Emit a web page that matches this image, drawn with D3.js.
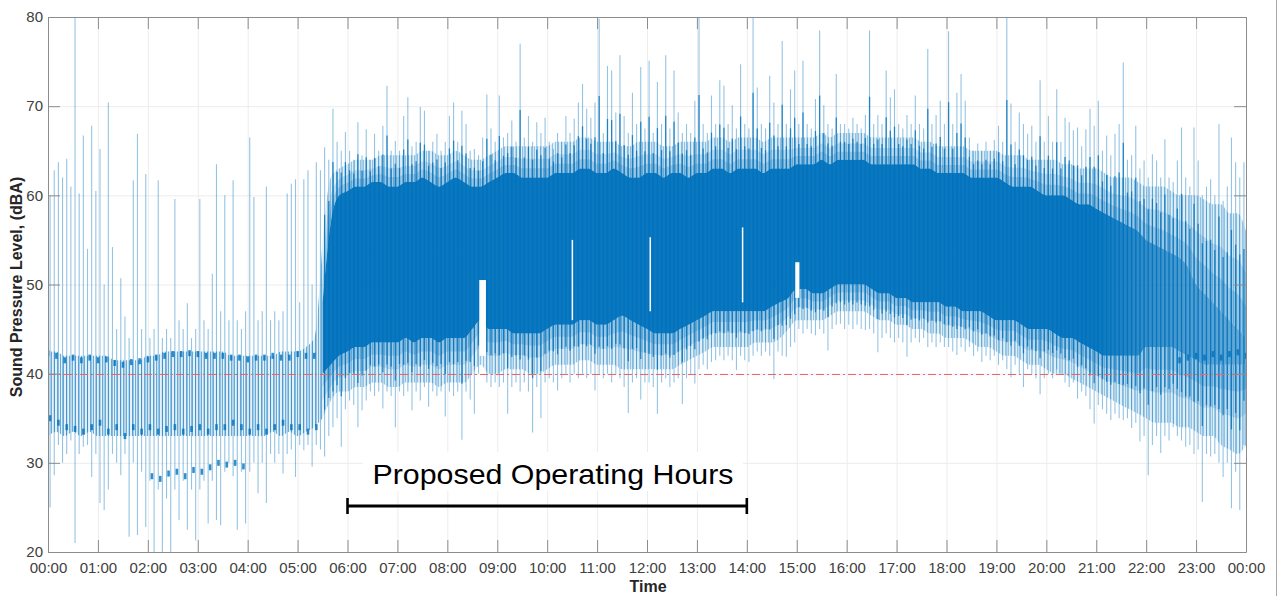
<!DOCTYPE html>
<html><head><meta charset="utf-8">
<script src="https://cdn.jsdelivr.net/npm/d3@7"></script>
<style>
body{margin:0;background:#fff;}
svg{display:block;font-family:"Liberation Sans",Arial,Helvetica,sans-serif;}
</style>
</head><body>
<svg id="c" width="1280" height="596"></svg>
<script>
// ---------- DATA ----------
const hourLabels = ["00:00","01:00","02:00","03:00","04:00","05:00","06:00","07:00","08:00","09:00","10:00","11:00","12:00","13:00","14:00","15:00","16:00","17:00","18:00","19:00","20:00","21:00","22:00","23:00","00:00"];
const yTicks = [20,30,40,50,60,70,80];
const threshold = 40;
const operatingStart = 6, operatingEnd = 14;
const annotationText = "Proposed Operating Hours";
const xLabel = "Time";
const yLabel = "Sound Pressure Level, (dBA)";

// light (sparse) band, every 10 min from 00:00 to 24:00
const fringeLow = [
 33,33.5,33,33.5,33,33.5, 33,33,33,33,33,33, 33,33,33,33,33,33, 33,33,33,33,33,33,
 33,33,33,33.5,33,33.5, 33,33.5,34,35,37,38,
 38,38.5,38.5,39,39,38.5, 38.5,39,39,39,39,38.5, 39,39,39,40,41,40,
 40,40.5,40.5,40.5,40,40, 40.5,41,41,41,41.5,41.5, 41,41,41,40.5,40.5,40.5,
 40.5,40.5,40.5,40.5,41,41.5, 42,42.5,43,43,43,43, 43,43.5,43.5,43.5,44,45,
 46,46,46,46,46.5,47, 47,47,47,46.5,46,46, 45.5,45.5,45,45,44.5,44.5,
 44,44,44,43.5,43,43, 42.5,42,42,41.5,41,41, 40.5,40,40,39.5,39,38.5,
 38,37.5,37,36.5,36,35.5, 35,34.5,34.5,34.5,34,34, 33.5,33,33,32,31.5,31, 32];
const fringeHigh = [
 42.5,42.5,42,42,42,42, 42,42,41.5,41.5,41.5,41.5, 42,42,42.5,42.5,42.5,42.5, 42.5,42.5,42.5,42.5,42,42,
 42,42,42,42,42.5,42.5, 42.5,43,44,55,62,63,
 63.5,64,64,64,64.5,64.5, 64.5,64.5,64.5,65,65,64.5, 64.5,65,64.5,64,64,64.5,
 65,65.5,65.5,65.5,65.5,65.5, 65.5,66,66,66,66.5,66.5, 66,66,66,65.5,65.5,66,
 66,66,65.5,65.5,66,66, 66,66,66.5,66.5,66,66.5, 66.5,66.5,66,66.5,66.5,66.5,
 66.5,66.5,66.5,67,66.5,67, 67,67,67,66.5,66.5,66.5, 66.5,66.5,66.5,66,66,65.5,
 65.5,65.5,65.5,65,65,65, 65,64.5,64.5,64.5,64,64, 64,64,63.5,63.5,63,63,
 63,62.5,62,62,62,61.5, 61,61,61,60.5,60,60, 60,59.5,59,59,58,58, 56];

// dense dark band, every 10 min from 05:30 to 24:00
const coreStartMinute = 330;
const coreLow = [
 40,41,42,
 42.5,43,43,43.5,43.5,43.5, 43.5,44,43.5,44,44,43.5, 44,44,44,45,46,45,
 45,45,44.5,44.5,44.5,44.5, 45,45.5,45.5,45.5,46,46, 45.5,45.5,46,46.5,46,45.5,
 45,44.5,44.5,44.5,45,45.5, 46,46.5,47,47,47,47, 47,47,47,47.5,48,48.5,
 49.5,49.5,49,49,49.5,50, 50,50,50,49.5,49,49, 48.5,48.5,48,48,48,48,
 47.5,47.5,47,47,47,46.5, 46,46,46,45.5,45,45, 45,44.5,44,44,43.5,43,
 42.5,42,42,42,42,42, 43,43,43,43,42.5,42, 41.5,41,41,41,41,41, 41];
const coreHigh = [
 48,57,60,
 60.5,61,61,61.5,61.5,61, 61,61.5,61.5,62,61.5,61, 61.5,62,61.5,61,61,61.5,
 62,62.5,62.5,62,62,62, 62,62.5,62.5,62.5,63,63, 62.5,62.5,63,62.5,62,62,
 62.5,62.5,62,62.5,62.5,62, 62.5,62.5,63,63,62.5,63, 63,63,62.5,63,63,63,
 63.5,63.5,63.5,64,63.5,64, 64,64,64,63.5,63.5,63.5, 63.5,63.5,63.5,63,63,62.5,
 62.5,62.5,62.5,62,62,62, 62,61.5,61,61,61,60.5, 60,60,60,59.5,59,59,
 58.5,58,57.5,57,56.5,56, 55,54.5,54,53.5,53,52, 50,49,48,47,46,45, 44];

// highest and lowest reading in each 5-minute interval (288 intervals)
const peaks5 = [
 60,62.8,63.7,62,64.1,61,80,60.2,66.7,54,67.8,60.5,
 65.2,50,70.4,54.2,45,50.7,46.4,44,61.7,66.9,45,62.4,
 44,45,61.7,44,45,44,59.6,46,45,47.9,44,45,
 59.6,46,45,51.2,63.5,47,60,46,61.7,46,45,47,
 66.5,59.8,46,47,61,46,47,46,47,60.2,61.3,61.8,
 48,61.8,62.8,50,63.7,62.8,65.4,64,69.7,66,65,67.1,
 65,64,68.2,64.5,67.4,64,66.9,65,67.8,72.3,65,66.1,
 65,68.9,71,65.5,66,69.9,69.5,65,66,66.9,65,66,
 68.9,70.4,66,69.5,68,65,65.2,64.5,66.5,71.3,67.5,66,
 71.2,66.5,67,68.4,66,77,66.5,68.9,66,68.2,67,68.7,
 66,65.2,67,66,68.9,67,68.6,70.4,72.5,69.7,68.7,70.4,
 79.8,67,74.5,74,69.3,75.7,68.9,67,71.5,68,74.4,67.5,
 75.1,67,72.7,68,75.7,67.5,74,69.3,67,68,67,70.6,
 80,68,67,71.2,68,72.9,72.3,68,70.1,67.5,74.7,68,
 67.5,80,72.1,68,67.5,73.4,70.4,68,77.3,68,71.9,74,
 68,75.1,68,67.5,70.8,78.5,70.1,68,67.5,73.6,68,68,
 67.5,68.7,68,67.5,69,78.5,68,69,68,74,71,71.9,
 68,67.5,69,68,71.2,68,67.5,76.4,68,69,70.6,68,
 78.4,68,71.5,73.6,70.6,66.5,65,65.8,65,66,65,66.2,
 67.8,66,80,70.3,66,69.3,68,66.9,67.8,66,72.9,66,
 68.9,66,71.9,66,68.7,68.2,67.3,67.6,65.5,67.4,69.7,67.8,
 70.6,65,66.7,64.5,66.9,68,74.9,64,64.5,67.8,63,63.9,
 62,64.6,63.9,62,66.3,62,61.5,63.9,67.6,62,61,67.6,
 63.9,60,61,61.8,60,68,59.4,61,66.5,63.7,62,63.7];
const dips5 = [
 25,28.6,32,30,31,32.5,21,31,31.8,32,28.4,31,
 25.5,24.7,27,31,30,28.6,31,21.7,30,21.9,29,22.8,
 28,20,27,20,26,20,27,23.6,28,22.5,27,21.3,
 27,28,23.2,28,23.6,23,29,30,28.5,22.5,29,23.2,
 29,30,26.6,30,25.5,31,30,31,28.8,31,31.5,28.4,
 32,31.4,32,29.6,32,31.5,30.7,33,34,35,31.8,36,
 37,36.5,34,35.9,37,38,37.5,38,36.1,38,37.5,34,
 38,37.5,38,35.9,38,37,38.5,36.3,38,37.5,38,35.2,
 38,37.5,38,32.6,38,37.1,35.5,40,50,39,38.5,39,
 38.5,39,35.5,38.5,39,38,39,38,33.4,38.5,35,39,
 39.5,39,38.1,39.5,40,39,40,39.5,40,39.5,40,38.1,
 40,39.5,40,39,40,39.5,38.5,35.6,39,39.5,37.1,39,
 39,38.5,35.5,39,39.5,38.5,39,39.5,36.6,39.5,40,38.9,
 40.5,41,40.5,41.3,41.5,42,41.5,42,41.5,40.4,42,41.5,
 41.3,42,42.5,42,42.5,42,39.4,42.5,42,41.9,43,43.5,
 45,44.5,45,44.5,44.3,45,44.5,42.6,45,45.5,45.6,45,
 45.5,45,45.5,45,44.9,45,44.5,42.4,44,44.5,44,43.5,
 44,43.5,41.9,43.5,44,43.5,44,43,43.5,43,43.5,43,
 43,42.5,42.1,43,42.5,43,42,42.5,41.3,42,41.5,42,
 41,41.5,40.5,39.6,41,40,38.5,40.5,40,39.5,37.7,39.5,
 40,39.5,40.5,40,39,38.5,39,37.2,38,37.5,36,34.4,
 36.5,36,35.5,34.8,35.5,35,34.8,35,33.9,34.5,32.4,33,
 28.6,32,33,31.1,33,32.5,34,33,32.5,31.8,32,31,
 31.5,25.6,31,30.7,31,30,28.4,30,24.9,29,24.7,32];

// cyclic background levels at night (every 10 min)
const humUpperNight = [42.3,42,41.5,41.8,41.5,41.8,41.5,41.6,41.2,41.0,41.3,41.4,41.6,41.8,42.0,42.2,42.2,42.3,42.2,42.0,42.0,42.0,41.8,41.8,41.6,41.8,41.8,42.0,41.8,41.8,42.2,42.0,42.0]; // from 00:00
const humUpperLate = [41.5,41.8,42.0,41.8,42.2,41.8,42.2,42.4,42.0]; // from 22:40
const humLowerNight = [35,34.5,34,33.8,33.5,34,34.5,33.5,34,33,34,33.5,34,33.5,33.8,34,33.5,33.8,34,33.5,34,34,34.5,34,33.5,34,33.5,34,34.5,34,34,33.5,34]; // from 00:00
const humLowestNight = [28.5,28.2,28.8,29,28.5,29.2,29,29.5,30,29.8,30,29.6]; // from 02:00

// short recording dropouts (start hour, duration in minutes, top level, bottom level)
const dropoutHours = [8.64, 10.49, 12.05, 13.9, 14.97];
const dropoutMinutes = [8, 1.5, 1.5, 1.5, 5];
const dropoutTop = [50.5, 55, 55.3, 56.4, 52.5];
const dropoutBottom = [42, 46, 47, 48, 48.5];

// ---------- CHART ----------
const M = {left:48, right:1246, top:17, bottom:552};
const x = d3.scaleLinear().domain([0,24]).range([M.left, M.right]);
const y = d3.scaleLinear().domain([20,80]).range([M.bottom, M.top]);
const blue = "#0072BD";
const svg = d3.select("#c");
const defs = svg.append("defs");
defs.append("clipPath").attr("id","plot").append("rect")
  .attr("x",M.left).attr("y",M.top).attr("width",M.right-M.left).attr("height",M.bottom-M.top);
function stripes(id, w, base, line){
  const p = defs.append("pattern").attr("id",id).attr("patternUnits","userSpaceOnUse").attr("width",w).attr("height",8);
  p.append("rect").attr("width",w).attr("height",8).attr("fill",blue).attr("fill-opacity",base);
  p.append("rect").attr("width",1).attr("height",8).attr("fill",blue).attr("fill-opacity",line);
}
stripes("dayStripes", 3, 0.12, 0.35);
stripes("nightStripes", 3, 0.1, 0.55);
const grad = defs.append("linearGradient").attr("id","coreFade").attr("gradientUnits","userSpaceOnUse")
  .attr("x1",x(0)).attr("x2",x(24)).attr("y1",0).attr("y2",0);
[[0,0.96],[21,0.96],[22,0.8],[23,0.68],[24,0.6]].forEach(([h,o]) =>
  grad.append("stop").attr("offset",h/24).attr("stop-color",blue).attr("stop-opacity",o));

const hourTicks = hourLabels.map((_,i)=>i);

// grid
const grid = svg.append("g").attr("stroke","#ececec").attr("stroke-width",1);
grid.selectAll(null).data(hourTicks.slice(1,-1)).join("line")
  .attr("x1",d=>x(d)+0.5).attr("x2",d=>x(d)+0.5).attr("y1",M.top).attr("y2",M.bottom);
grid.selectAll(null).data(yTicks.slice(1,-1)).join("line")
  .attr("y1",d=>y(d)+0.5).attr("y2",d=>y(d)+0.5).attr("x1",M.left).attr("x2",M.right);

// white box behind annotation text
svg.append("rect").attr("x",363).attr("y",452).attr("width",380).attr("height",39).attr("fill","#fff");

const plot = svg.append("g").attr("clip-path","url(#plot)");
const curve = d3.curveMonotoneX;

// night light band (00:00-05:30)
const nightPts = fringeLow.slice(0,34).map((v,i)=>({h:i/6, lo:v, hi:fringeHigh[i]}));
plot.append("path").datum(nightPts)
  .attr("d", d3.area().curve(curve).x(d=>x(d.h)).y0(d=>y(d.lo)).y1(d=>y(d.hi)))
  .attr("fill","url(#nightStripes)");

// day bands around the dense core, graded from outer edge inward
const corePts = coreLow.map((v,k)=>{
  const fi = coreStartMinute/10 + k;
  return {h:(coreStartMinute+10*k)/60, lo:v, hi:coreHigh[k], flo:fringeLow[fi], fhi:fringeHigh[fi]};
});
[[1,"url(#dayStripes)",1],[0.6,blue,0.16],[0.3,blue,0.2]].forEach(([f,fill,op])=>{
  const up = d3.area().curve(curve).x(d=>x(d.h)).y0(d=>y(d.hi)).y1(d=>y(d.hi+f*(d.fhi-d.hi)));
  const dn = d3.area().curve(curve).x(d=>x(d.h)).y0(d=>y(d.lo-f*(d.lo-d.flo))).y1(d=>y(d.lo));
  plot.append("path").datum(corePts).attr("d",up).attr("fill",fill).attr("fill-opacity",op);
  plot.append("path").datum(corePts).attr("d",dn).attr("fill",fill).attr("fill-opacity",op);
});

// dense core
plot.append("path").datum(corePts)
  .attr("d", d3.area().curve(curve).x(d=>x(d.h)).y0(d=>y(d.lo)).y1(d=>y(d.hi)))
  .attr("fill","url(#coreFade)");

// 5-minute extremes (light full range)
const coreAt = (h, arr) => {
  const k = (h*60 - coreStartMinute)/10;
  if (k < 0) return null;
  const k0 = Math.min(Math.floor(k), arr.length-2), t = k - k0;
  return arr[k0]*(1-t) + arr[k0+1]*t;
};
const ext = peaks5.map((p,i)=>{
  const h=(i+0.5)/12;
  return {h, hi:p, lo:dips5[i], chi:coreAt(h,coreHigh), clo:coreAt(h,coreLow)};
});
plot.append("g").selectAll("line").data(ext).join("line")
  .attr("x1",d=>x(d.h)).attr("x2",d=>x(d.h))
  .attr("y1",d=>y(d.lo)).attr("y2",d=>y(d.hi))
  .attr("stroke",blue).attr("stroke-opacity",0.42).attr("stroke-width",1.1);
// darker roots of the same extremes next to the dense core
const rooted = ext.filter(d=>d.chi!==null);
plot.append("g").selectAll("line").data(rooted).join("line")
  .attr("x1",d=>x(d.h)).attr("x2",d=>x(d.h))
  .attr("y1",d=>y(Math.max(d.lo, d.clo-0.45*Math.max(0,d.clo-d.lo))))
  .attr("y2",d=>y(Math.min(d.hi, d.chi+0.5*Math.max(0,d.hi-d.chi))))
  .attr("stroke",blue).attr("stroke-opacity",0.8).attr("stroke-width",1.3);

// hum dashes
const hums = [];
humUpperNight.forEach((v,i)=>hums.push({h:i/6, v}));
humUpperLate.forEach((v,i)=>hums.push({h:(1360+10*i)/60, v}));
humLowerNight.forEach((v,i)=>hums.push({h:i/6+0.04, v}));
humLowestNight.forEach((v,i)=>hums.push({h:2+i/6+0.08, v}));
plot.append("g").selectAll("rect").data(hums).join("rect")
  .attr("x",d=>x(d.h)-1.2).attr("width",2.6)
  .attr("y",d=>y(d.v)-3).attr("height",6)
  .attr("fill",blue).attr("fill-opacity",0.8);

// dropouts (no data: background shows through)
plot.append("g").selectAll("rect").data(dropoutHours).join("rect")
  .attr("x",d=>x(d)).attr("width",(d,i)=>Math.max(1.5, x(d+dropoutMinutes[i]/60)-x(d)))
  .attr("y",(d,i)=>y(dropoutTop[i])).attr("height",(d,i)=>y(dropoutBottom[i])-y(dropoutTop[i]))
  .attr("fill","#fff");

// threshold
const ty = Math.round(y(threshold)) + 0.5;
plot.append("line").attr("x1",M.left).attr("x2",M.right)
  .attr("y1",ty).attr("y2",ty)
  .attr("stroke","#f06464").attr("stroke-width",1)
  .attr("stroke-dasharray","8,3,2,3");

// axes
const axisColor = "#8c8c8c";
function styleAxis(g){
  g.select(".domain").attr("stroke",axisColor);
  g.selectAll(".tick line").attr("stroke",axisColor);
  g.selectAll(".tick text").attr("fill","#404040").attr("font-size",15)
    .attr("font-family","'Liberation Sans',Arial,Helvetica,sans-serif");
}
svg.append("g").attr("transform",`translate(0,${M.bottom})`)
  .call(d3.axisBottom(x).tickValues(hourTicks).tickFormat((d,i)=>hourLabels[i]).tickSizeInner(-12).tickSizeOuter(0).tickPadding(10))
  .call(styleAxis);
svg.append("g").attr("transform",`translate(0,${M.top})`)
  .call(d3.axisTop(x).tickValues(hourTicks).tickFormat("").tickSizeInner(-12).tickSizeOuter(0))
  .call(styleAxis);
svg.append("g").attr("transform",`translate(${M.left},0)`)
  .call(d3.axisLeft(y).tickValues(yTicks).tickSizeInner(-12).tickSizeOuter(0).tickPadding(5))
  .call(styleAxis);
svg.append("g").attr("transform",`translate(${M.right},0)`)
  .call(d3.axisRight(y).tickValues(yTicks).tickFormat("").tickSizeInner(-12).tickSizeOuter(0))
  .call(styleAxis);

// axis labels
svg.append("text").attr("x",648).attr("y",592).attr("text-anchor","middle")
  .attr("font-weight","bold").attr("font-size",16).attr("fill","#262626").text(xLabel);
svg.append("text").attr("transform","translate(22,287) rotate(-90)").attr("text-anchor","middle")
  .attr("font-weight","bold").attr("font-size",16).attr("fill","#262626").text(yLabel);

// annotation
svg.append("text").attr("x",553).attr("y",484).attr("text-anchor","middle")
  .attr("font-size",28.5).attr("fill","#000")
  .attr("textLength",361).attr("lengthAdjust","spacingAndGlyphs").text(annotationText);
const br = svg.append("g").attr("stroke","#000");
br.append("line").attr("x1",x(operatingStart)).attr("x2",x(operatingEnd)).attr("y1",506).attr("y2",506).attr("stroke-width",3.2);
[operatingStart, operatingEnd].forEach(h =>
  br.append("line").attr("x1",x(h)).attr("x2",x(h)).attr("y1",498).attr("y2",514).attr("stroke-width",2.6));

// outer frame edge on right
svg.append("line").attr("x1",1276.5).attr("x2",1276.5).attr("y1",0).attr("y2",596)
  .attr("stroke","#a8a8a8").attr("stroke-width",1);
</script>
</body></html>
